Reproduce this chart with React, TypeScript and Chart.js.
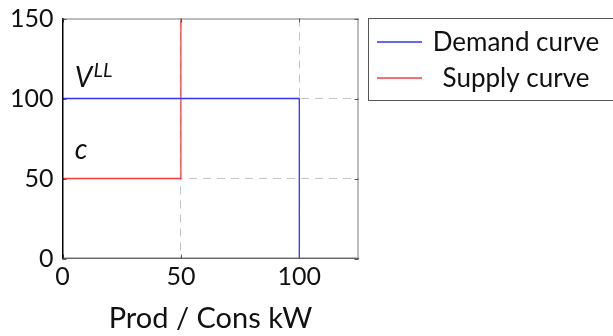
import React, { useEffect, useRef } from "react";
import { Chart, registerables } from "chart.js";
Chart.register(...registerables);

const seriesNames = ["Demand curve", "Supply curve"];
const demandX = [0, 100, 100];
const demandY = [100, 100, 0];
const supplyX = [0, 50, 50];
const supplyY = [50, 50, 150];
const xTicks = [0, 50, 100];
const yTicks = [0, 50, 100, 150];
const xMax = 125;
const yMax = 150;
const xTitle = "Prod / Cons kW";
const annotations = [
  { x: 5.2, y: 107, main: "V", sup: "LL" },
  { x: 5.2, y: 62, main: "c", sup: "" },
];

const FONT = "Lato, 'Open Sans', sans-serif";

export default function App() {
  const ref = useRef<HTMLCanvasElement>(null);
  useEffect(() => {
    document.body.style.margin = "0";
    const canvas = ref.current!;
    const colors = ["rgb(50,50,250)", "rgb(250,60,60)"];
    const frame = {
      id: "frame",
      afterDraw(chart: any) {
        const ctx = chart.ctx;
        const a = chart.chartArea;
        const xs = chart.scales.x;
        const ys = chart.scales.y;
        ctx.save();
        ctx.setLineDash([]);
        ctx.strokeStyle = "#7a7a7a";
        ctx.lineWidth = 1;
        ctx.beginPath();
        ctx.moveTo(a.left, a.top + 0.5);
        ctx.lineTo(a.right, a.top + 0.5);
        ctx.moveTo(a.right - 0.5, a.top);
        ctx.lineTo(a.right - 0.5, a.bottom);
        ctx.moveTo(a.left, a.bottom - 0.5);
        ctx.lineTo(a.right, a.bottom - 0.5);
        ctx.stroke();
        ctx.strokeStyle = "#555";
        ctx.beginPath();
        for (const v of xTicks) {
          const px = Math.round(xs.getPixelForValue(v)) + 0.5;
          ctx.moveTo(px, a.bottom);
          ctx.lineTo(px, a.bottom - 4);
          ctx.moveTo(px, a.top);
          ctx.lineTo(px, a.top + 4);
        }
        for (const v of yTicks) {
          const py = Math.round(ys.getPixelForValue(v)) + 0.5;
          ctx.moveTo(a.left, py);
          ctx.lineTo(a.left + 4, py);
          ctx.moveTo(a.right, py);
          ctx.lineTo(a.right - 4, py);
        }
        ctx.stroke();
        ctx.strokeStyle = "#000";
        ctx.beginPath();
        ctx.moveTo(a.left + 0.5, a.top);
        ctx.lineTo(a.left + 0.5, a.bottom);
        ctx.stroke();
        ctx.fillStyle = "#111";
        ctx.textBaseline = "alphabetic";
        ctx.textAlign = "left";
        for (const an of annotations) {
          const px = xs.getPixelForValue(an.x);
          const py = ys.getPixelForValue(an.y);
          ctx.font = `italic 28px ${FONT}`;
          ctx.fillText(an.main, px, py);
          const w = ctx.measureText(an.main).width;
          if (an.sup) {
            ctx.font = `italic 20px ${FONT}`;
            ctx.fillText(an.sup, px + w + 1, py - 10);
          }
        }
        const lx = 368.5, ly = 18.5, lw = 260, lh = 82;
        ctx.fillStyle = "#fff";
        ctx.fillRect(lx, ly, lw, lh);
        ctx.strokeStyle = "#555";
        ctx.strokeRect(lx, ly, lw, lh);
        ctx.font = `26px ${FONT}`;
        ctx.textBaseline = "middle";
        ctx.textAlign = "center";
        const rows = [42, 78];
        seriesNames.forEach((name, i) => {
          ctx.strokeStyle = colors[i];
          ctx.lineWidth = 1.3;
          ctx.beginPath();
          ctx.moveTo(377, rows[i]);
          ctx.lineTo(422, rows[i]);
          ctx.stroke();
          ctx.fillStyle = "#111";
          ctx.fillText(name, 516, rows[i] + 1);
        });
        ctx.restore();
      },
    };
    const gridColor = (c: any) => {
      const v = c.tick && c.tick.value;
      if (v === 0 || v === 150 || v === 125) return "rgba(0,0,0,0)";
      return "#c4c4c4";
    };
    const chart = new Chart(canvas, {
      type: "scatter",
      data: {
        datasets: [
          {
            label: seriesNames[0],
            data: demandX.map((x, i) => ({ x, y: demandY[i] })),
            borderColor: colors[0],
            backgroundColor: colors[0],
            showLine: true,
            pointRadius: 0,
            borderWidth: 1.3,
          },
          {
            label: seriesNames[1],
            data: supplyX.map((x, i) => ({ x, y: supplyY[i] })),
            borderColor: colors[1],
            backgroundColor: colors[1],
            showLine: true,
            pointRadius: 0,
            borderWidth: 1.3,
          },
        ],
      },
      plugins: [frame],
      options: {
        animation: false,
        responsive: false,
        maintainAspectRatio: false,
        layout: { padding: { left: 0, top: 18.5, right: 254.5, bottom: 0 } },
        plugins: { legend: { display: false }, tooltip: { enabled: false } },
        scales: {
          x: {
            type: "linear",
            min: 0,
            max: xMax,
            afterBuildTicks: (s: any) => {
              s.ticks = xTicks.map((v) => ({ value: v }));
            },
            afterFit: (s: any) => {
              s.height = 77.5;
              s.paddingLeft = 0;
              s.paddingRight = 0;
            },
            grid: { color: gridColor, drawTicks: false },
            border: { color: "#555", width: 1, dash: [8, 6] },
            ticks: {
              color: "#111",
              font: { family: FONT, size: 25 },
              padding: 3,
              maxRotation: 0,
            },
            title: {
              display: true,
              text: xTitle,
              color: "#111",
              font: { family: FONT, size: 29 },
              padding: { top: 5, bottom: 0 },
            },
          },
          y: {
            type: "linear",
            min: 0,
            max: yMax,
            afterBuildTicks: (s: any) => {
              s.ticks = yTicks.map((v) => ({ value: v }));
            },
            afterFit: (s: any) => {
              s.width = 62.5;
              s.paddingTop = 0;
              s.paddingBottom = 0;
            },
            grid: { color: gridColor, drawTicks: false },
            border: { color: "#000", width: 1, dash: [8, 6] },
            ticks: {
              color: "#111",
              font: { family: FONT, size: 25 },
              padding: 9,
            },
          },
        },
      } as any,
    });
    return () => chart.destroy();
  }, []);
  return <canvas ref={ref} width={613} height={336} style={{ display: "block" }} />;
}
